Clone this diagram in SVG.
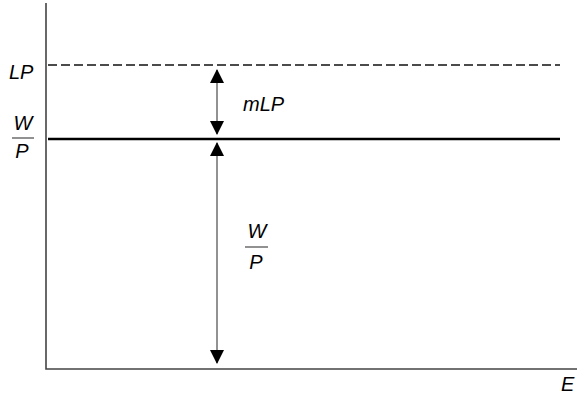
<svg xmlns="http://www.w3.org/2000/svg" width="577" height="395" viewBox="0 0 577 395">
<style>
.t{font-family:"Liberation Sans",Arial,sans-serif;font-style:italic;font-size:20px;fill:#000}
.f{font-family:"Liberation Sans",Arial,sans-serif;font-style:italic;font-size:20px;fill:#000;text-anchor:middle}
.ax{stroke:#444;stroke-width:1.6;fill:none}
.arr{stroke:#777;stroke-width:1.6;fill:none}
.fl{stroke:#555;stroke-width:1.3}
</style>
<defs>
<marker id="ah" markerWidth="14" markerHeight="14" refX="13" refY="7" orient="auto-start-reverse" markerUnits="userSpaceOnUse" viewBox="0 0 14 14">
<path d="M0,0 L14,7 L0,14 Z" fill="#000"/>
</marker>
</defs>
<rect width="577" height="395" fill="#fff"/>
<g id="axes">
<path class="ax" d="M46,3 V369 H577"/>
</g>
<g id="lp-line">
<line x1="48" y1="65" x2="560" y2="65" stroke="#111" stroke-width="1.3" stroke-dasharray="9,4"/>
</g>
<g id="wp-line">
<line x1="48" y1="139" x2="560" y2="139" stroke="#000" stroke-width="2.4"/>
</g>
<g id="connectors">
<line class="arr" x1="217" y1="70" x2="217" y2="134" marker-start="url(#ah)" marker-end="url(#ah)"/>
<line class="arr" x1="217" y1="143" x2="217" y2="363" marker-start="url(#ah)" marker-end="url(#ah)"/>
</g>
<g id="labels">
<text class="t" x="9" y="79">LP</text>
<text class="f" x="23" y="130">W</text>
<line class="fl" x1="12" y1="138" x2="34" y2="138"/>
<text class="f" x="22" y="158">P</text>
<text class="t" x="243" y="111">mLP</text>
<text class="f" x="257" y="238">W</text>
<line class="fl" x1="245" y1="247" x2="268" y2="247"/>
<text class="f" x="256" y="269">P</text>
<text class="t" x="561" y="391">E</text>
</g>
</svg>
